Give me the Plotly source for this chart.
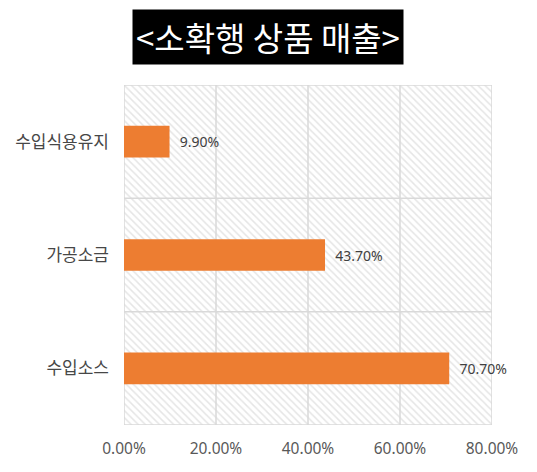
import plotly.graph_objects as go

categories = ["수입소스", "가공소금", "수입식용유지"]
values = [70.7, 43.7, 9.9]
x_ticks = [0, 20, 40, 60, 80]
x_tick_labels = ["0.00%", "20.00%", "40.00%", "60.00%", "80.00%"]
title_text = "<소확행 상품 매출>"

x_max = x_ticks[-1]
n = len(categories)
pos = list(range(n))
bounds = [i - 0.5 for i in range(n + 1)]
grid_color = "#d9d9d9"
latin_font = "Noto Sans, Noto Sans CJK KR"

fig = go.Figure()
# hatched plot background
fig.add_trace(go.Bar(
    y=[(n - 1) / 2], x=[x_max], base=0, width=n,
    orientation="h",
    marker=dict(color="white", line=dict(width=0),
                pattern=dict(shape="\\", fgcolor="#cccccc", bgcolor="white", size=5, solidity=0.3)),
    hoverinfo="skip", showlegend=False,
))
# vertical grid lines at x ticks
gx, gy = [], []
for t in x_ticks:
    gx += [t, t, None]
    gy += [bounds[0], bounds[-1], None]
fig.add_trace(go.Scatter(x=gx, y=gy, mode="lines", line=dict(color=grid_color, width=1.5),
                         hoverinfo="skip", showlegend=False, cliponaxis=False))
# horizontal category boundary lines (with short outside tick)
hx, hy = [], []
for b in bounds:
    hx += [-1, x_max, None]
    hy += [b, b, None]
fig.add_trace(go.Scatter(x=hx, y=hy, mode="lines", line=dict(color=grid_color, width=1.5),
                         hoverinfo="skip", showlegend=False, cliponaxis=False))
# data bars on an overlaid subplot so they are drawn above the grid
fig.add_trace(go.Bar(
    y=pos, x=values, orientation="h", width=0.28,
    xaxis="x2", yaxis="y2",
    marker=dict(color="#ED7D31", line=dict(width=0)),
    text=[f"  {v:.2f}%" for v in values], textposition="outside",
    textfont=dict(size=14, color="#404040", family=latin_font),
    cliponaxis=False, showlegend=False,
))

fig.update_layout(
    width=529, height=464,
    margin=dict(l=116, r=45, t=77, b=47, autoexpand=False),
    paper_bgcolor="white", plot_bgcolor="white",
    barmode="overlay",
    font=dict(family="Noto Sans CJK KR", color="#595959"),
    xaxis=dict(range=[0, x_max], tickvals=x_ticks, ticktext=x_tick_labels,
               showgrid=False, zeroline=False, showline=False, ticks="",
               ticklabelstandoff=12, automargin=False,
               tickfont=dict(size=15.5, color="#595959", family=latin_font), fixedrange=True),
    yaxis=dict(range=[bounds[0], bounds[-1]], tickvals=pos, ticktext=categories,
               showgrid=False, zeroline=False, showline=False,
               ticks="", ticklabelstandoff=14, automargin=False,
               tickfont=dict(size=17, color="#474747"), fixedrange=True),
    xaxis2=dict(range=[0, x_max], overlaying="x", visible=False, fixedrange=True, automargin=False),
    yaxis2=dict(range=[bounds[0], bounds[-1]], overlaying="y", visible=False, fixedrange=True, automargin=False),
    annotations=[dict(
        text=title_text.replace("<", "&lt;").replace(">", "&gt;"),
        x=(268 - 124) / (537 - 124 - 45), xref="paper", xanchor="center",
        y=1 + (85 - 37) / (472 - 85 - 47), yref="paper", yanchor="middle",
        showarrow=False, bgcolor="black", borderpad=3,
        font=dict(size=33, color="white", family="Noto Sans CJK KR"),
    )],
)
fig.write_html("out.html")
